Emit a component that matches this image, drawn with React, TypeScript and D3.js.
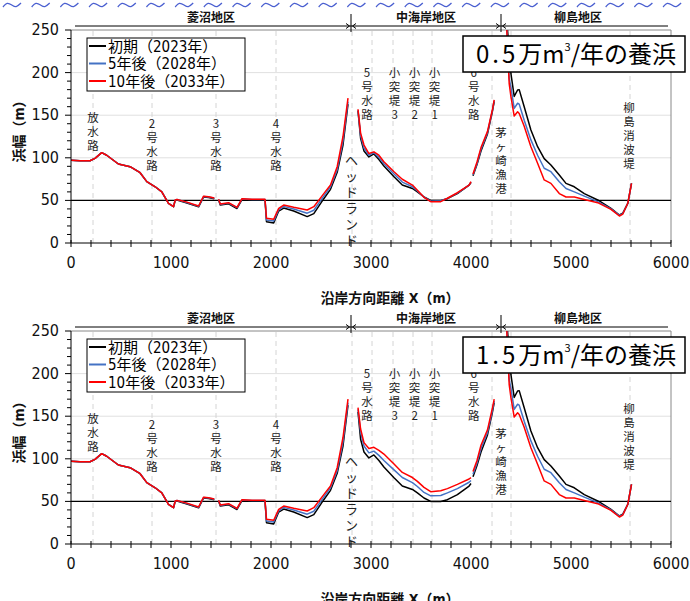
import * as d3 from "d3";

// 沿岸方向距離 (m) と浜幅 (m)
const xA = [0, 90, 190, 240, 307, 357, 474, 591, 691, 758, 842, 908, 975, 1025, 1042, 1060, 1159, 1276, 1326, 1376, 1433, 1455, 1476, 1493, 1576, 1660, 1710, 1810, 1927, 1940, 1955, 2027, 2077, 2127, 2227, 2362, 2428, 2528, 2595, 2662, 2720, 2770];
const initA = [97, 96.5, 96.5, 99.4, 106, 103, 92.7, 89.6, 82.5, 72, 66, 60, 46.6, 42.6, 50, 50.5, 47, 42.5, 54, 53.5, 52, null, 50.5, 44.5, 46, 40.5, 51, 50.5, 50.5, 50.5, 25, 23.5, 37.5, 41, 37.5, 31, 34.5, 52, 63, 83, 115, 163];
const y2028A = [97, 96.5, 96.5, 99.4, 106, 103, 92.7, 89.6, 82.5, 72, 66, 60, 46.6, 42.6, 50.5, 51, 47.5, 43, 54.5, 54, 52.5, null, 51, 45.3, 46.8, 41.5, 51.5, 51, 51, 51, 27, 25.8, 39, 43, 40, 35, 38.5, 55, 66, 86, 120, 166];
const y2033A = [97, 96.5, 96.5, 99.4, 106, 103, 92.7, 89.6, 82.5, 72, 66, 60, 46.6, 42.6, 50.5, 51, 48, 43.4, 55, 54.3, 52.8, null, 51.3, 45.8, 47.3, 41.9, 52, 51.3, 51.3, 51.3, 29, 27.8, 40.7, 44.6, 41.9, 38.7, 42.6, 58, 68, 89.6, 125, 170];

const xB = [2870, 2896, 2930, 2979, 3029, 3079, 3129, 3230, 3313, 3414, 3464, 3530, 3597, 3697, 3764, 3864, 3981, 4000];
const initB = [155, 123, 108, 101, 104.5, 98, 90.4, 77.8, 68, 64, 60, 54, 50, 50, 52, 58, 68, 71];
const y2028B05 = [156, 126, 111.5, 103, 106, 100.5, 93, 81, 71.5, 66, 61, 53.8, 49, 49.5, 52.3, 58.5, 68, 71.5];
const y2033B05 = [157, 129, 115, 105, 107, 103, 95.4, 83.7, 74.8, 68, 62, 53.6, 48.5, 48.5, 52.5, 59, 68, 72];
const y2028B15 = [158, 131, 115, 107, 109, 104, 98, 87, 78, 72, 67.5, 60.5, 56.5, 57, 60, 65, 72.5, 74.5];
const y2033B15 = [160, 135, 119, 112, 113.5, 110, 105.6, 94, 84, 78, 73.5, 66.5, 61.4, 62.6, 65, 70, 76.3, 78];

const xB2 = [4020, 4060, 4100, 4165, 4215, 4232];
const initB2 = [79, 92, 108, 128, 155, 166];
const y2028B2_05 = [80, 93, 110, 129.5, 156, 167];
const y2033B2_05 = [81, 95, 112, 131, 157, 168];
const y2028B2_15 = [82, 95, 112, 131, 157, 168];
const y2033B2_15 = [85, 98, 116, 134, 160, 170];

const xC = [4355, 4382, 4399, 4432, 4466, 4482, 4532, 4599, 4666, 4732, 4799, 4883, 4950, 5033, 5133, 5267, 5400, 5484, 5518, 5568, 5605];
const initC = [265, 225, 199, 172, 179.6, 180, 160, 132.6, 113, 99, 91.5, 79.8, 70, 66, 58, 50.5, 40.7, 32.9, 35, 46.6, 70];
const y2028C = [262, 193, 183, 158, 164, 163, 144, 121, 103, 87.7, 83.7, 72, 64, 60, 55, 48.5, 40, 32.5, 34.5, 46.6, 70];
const y2033C = [258, 187, 172, 149, 154, 152, 137, 113, 93.5, 74, 70, 58, 54, 54, 51, 47.3, 39.5, 31.7, 34, 46.6, 70];

const legendLabels = ["初期（2023年）", "5年後（2028年）", "10年後（2033年）"];
const seriesColors = ["#000000", "#4472C4", "#FF0000"];

const yTicks = [0, 50, 100, 150, 200, 250];
const xTicks = [0, 1000, 2000, 3000, 4000, 5000, 6000];
const hGrid = [100, 150, 200];
const vGrid = [220, 810, 1450, 2050, 2810, 3010, 3220, 3420, 3610, 4210, 4400, 5590];

const regions = ["菱沼地区", "中海岸地区", "柳島地区"];
const regionBounds = [0, 2800, 4300, 6000];

const structNames = ["放水路", "2号水路", "3号水路", "4号水路", "5号水路", "小突堤3", "小突堤2", "小突堤1", "6号水路", "茅ヶ崎漁港", "柳島消波堤"];
const structX = [220, 810, 1450, 2050, 2960, 3236, 3436, 3636, 4028, 4299, 5580];
const structTopY = [147, 140, 140, 140, 200, 200, 200, 200, 200, 129, 158];
const headlandName = "ヘッドランド";

const titleAmounts = ["0.5", "1.5"];

const FONT = "'Liberation Sans Narrow', 'DejaVu Sans Condensed', 'Noto Sans CJK JP', sans-serif";
const JP = "'Noto Sans CJK JP', sans-serif";

const W = 690, H = 601;

type Seg = { x: number[]; y: (number | null)[] };

const Panel = ({ dy, idx, series }: { dy: number; idx: number; series: Seg[][] }) => {
  const x = d3.scaleLinear().domain([0, 6000]).range([71, 671]);
  const y = d3.scaleLinear().domain([0, 250]).range([243 + dy, 30 + dy]);
  const lineGen = d3
    .line<[number, number | null]>()
    .defined((d) => d[1] != null)
    .x((d) => x(d[0]))
    .y((d) => y(d[1] as number));
  const clipId = `clip${idx}`;
  const minorY = d3.range(0, 251, 10);
  const minorX = d3.range(0, 6001, 200);
  const hy = 26 + dy;

  return (
    <g>
      <defs>
        <clipPath id={clipId}>
          <rect x={x(0)} y={y(250)} width={x(6000) - x(0)} height={y(0) - y(250)} />
        </clipPath>
      </defs>
      {/* grid */}
      {hGrid.map((v) => (
        <line key={"h" + v} x1={x(0)} x2={x(6000)} y1={y(v)} y2={y(v)} stroke="#e0e0e0" strokeWidth={1} />
      ))}
      {vGrid.map((v) => (
        <line key={"v" + v} x1={x(v)} x2={x(v)} y1={y(0)} y2={y(250)} stroke="#d4d4d4" strokeDasharray="5,4" strokeWidth={1} />
      ))}
      <line x1={x(0)} x2={x(6000)} y1={y(250)} y2={y(250)} stroke="#888" />
      <line x1={x(6000)} x2={x(6000)} y1={y(0)} y2={y(250)} stroke="#888" />

      {/* structure labels, one character per line */}
      {structNames.map((s, i) =>
        Array.from(s).map((c, j) => (
          <text
            key={s + j}
            x={x(structX[i])}
            y={y(structTopY[i]) + 4 + j * 14}
            fontFamily={JP}
            fontSize={11.5}
            fill="#222"
            textAnchor="middle"
          >
            {c}
          </text>
        ))
      )}
      {Array.from(headlandName).map((c, j) => (
        <text key={"hl" + j} x={x(2805)} y={y(97) + 5 + j * 16} fontFamily={JP} fontSize={13} fill="#222" textAnchor="middle">
          {c}
        </text>
      ))}

      {/* 50m line */}
      <line x1={x(0)} x2={x(6000)} y1={y(50)} y2={y(50)} stroke="#000" strokeWidth={1.3} />

      {/* series */}
      <g clipPath={`url(#${clipId})`}>
        {series.map((segs, si) =>
          segs.map((sg, k) => (
            <path
              key={si + "-" + k}
              d={lineGen(sg.x.map((v, i) => [v, sg.y[i]] as [number, number | null])) || ""}
              fill="none"
              stroke={seriesColors[si]}
              strokeWidth={1.5}
              strokeLinejoin="round"
            />
          ))
        )}
      </g>

      {/* axes */}
      <line x1={x(0)} x2={x(0)} y1={y(0)} y2={y(250)} stroke="#000" />
      <line x1={x(0)} x2={x(6000)} y1={y(0)} y2={y(0)} stroke="#000" />
      {minorY.map((v) => (
        <line key={"my" + v} x1={x(0) - (v % 50 === 0 ? 6 : 4)} x2={x(0)} y1={y(v)} y2={y(v)} stroke="#000" />
      ))}
      {minorX.map((v) => (
        <line key={"mx" + v} x1={x(v)} x2={x(v)} y1={y(0) - 3} y2={y(0) + 4} stroke="#000" />
      ))}
      {yTicks.map((v) => (
        <text key={"yt" + v} x={x(0) - 12} y={y(v) + 5} textAnchor="end" fontFamily={FONT} fontSize={16} fill="#111">
          {v}
        </text>
      ))}
      {xTicks.map((v) => (
        <text key={"xt" + v} x={x(v)} y={y(0) + 25} textAnchor="middle" fontFamily={FONT} fontSize={16} fill="#111">
          {v}
        </text>
      ))}
      <text x={390} y={y(0) + 60} textAnchor="middle" fontFamily={FONT} fontSize={14} fontWeight="bold" fill="#111">
        沿岸方向距離 X（m）
      </text>
      <text
        transform={`translate(24,${y(135)}) rotate(-90)`}
        textAnchor="middle"
        fontFamily={FONT}
        fontSize={14}
        fontWeight="bold"
        fill="#111"
      >
        浜幅（m）
      </text>

      {/* region header */}
      <line x1={x(40)} x2={x(5970)} y1={hy} y2={hy} stroke="#000" />
      {regionBounds.slice(1, 3).map((b) => (
        <g key={"rb" + b}>
          <line x1={x(b)} x2={x(b)} y1={hy - 12} y2={hy + 6} stroke="#000" />
          <path d={`M${x(b) - 5},${hy - 2.5}L${x(b) - 1.5},${hy}L${x(b) - 5},${hy + 2.5}`} fill="none" stroke="#000" />
          <path d={`M${x(b) + 5},${hy - 2.5}L${x(b) + 1.5},${hy}L${x(b) + 5},${hy + 2.5}`} fill="none" stroke="#000" />
        </g>
      ))}
      {regions.map((r, i) => (
        <text
          key={r}
          x={x((regionBounds[i] + regionBounds[i + 1]) / 2) - (i === 2 ? 8 : 0)}
          y={hy - 4}
          textAnchor="middle"
          fontFamily={JP}
          fontSize={12}
          fontWeight="bold"
          fill="#111"
        >
          {r}
        </text>
      ))}

      {/* legend */}
      <rect x={87} y={38 + dy} width={158} height={53} fill="#fff" stroke="#000" strokeWidth={1} />
      {legendLabels.map((l, i) => (
        <g key={l}>
          <line x1={89} x2={106} y1={46 + dy + i * 17.5} y2={46 + dy + i * 17.5} stroke={seriesColors[i]} strokeWidth={2} />
          <text x={108} y={51.5 + dy + i * 17.5} fontFamily={FONT} fontSize={15} fill="#000">
            {l}
          </text>
        </g>
      ))}

      {/* title box */}
      <rect x={463} y={36 + dy} width={222} height={36} fill="#fff" stroke="#000" strokeWidth={1.5} />
      <text x={476} y={63 + dy} fontFamily={JP} fontSize={24} fill="#000">
        <tspan letterSpacing={3}>{titleAmounts[idx]}</tspan>
        <tspan>万m</tspan>
        <tspan fontSize={11} dy={-12}>3</tspan>
        <tspan dy={12}>/年の養浜</tspan>
      </text>
    </g>
  );
};

export default function App() {
  const seg = (xs: number[], ys: (number | null)[]): Seg => ({ x: xs, y: ys });
  const panel1: Seg[][] = [
    [seg(xA, initA), seg(xB, initB), seg(xB2, initB2), seg(xC, initC)],
    [seg(xA, y2028A), seg(xB, y2028B05), seg(xB2, y2028B2_05), seg(xC, y2028C)],
    [seg(xA, y2033A), seg(xB, y2033B05), seg(xB2, y2033B2_05), seg(xC, y2033C)],
  ];
  const panel2: Seg[][] = [
    [seg(xA, initA), seg(xB, initB), seg(xB2, initB2), seg(xC, initC)],
    [seg(xA, y2028A), seg(xB, y2028B15), seg(xB2, y2028B2_15), seg(xC, y2028C)],
    [seg(xA, y2033A), seg(xB, y2033B15), seg(xB2, y2033B2_15), seg(xC, y2033C)],
  ];
  const waves = d3.range(24).map((i) => 3 + i * 28.7);
  const wave = d3.line().curve(d3.curveBasis);

  return (
    <svg width={W} height={H} style={{ position: "absolute", left: 0, top: 0, background: "#fff" }}>
      <rect width={W} height={H} fill="#fff" />
      {waves.map((wx, i) => (
        <path
          key={i}
          d={wave([[wx, 7], [wx + 4, 2], [wx + 9, 5], [wx + 13, 8], [wx + 18, 3]]) || ""}
          fill="none"
          stroke="#4a5fd0"
          strokeWidth={1.3}
        />
      ))}
      <Panel dy={0} idx={0} series={panel1} />
      <Panel dy={301} idx={1} series={panel2} />
    </svg>
  );
}
